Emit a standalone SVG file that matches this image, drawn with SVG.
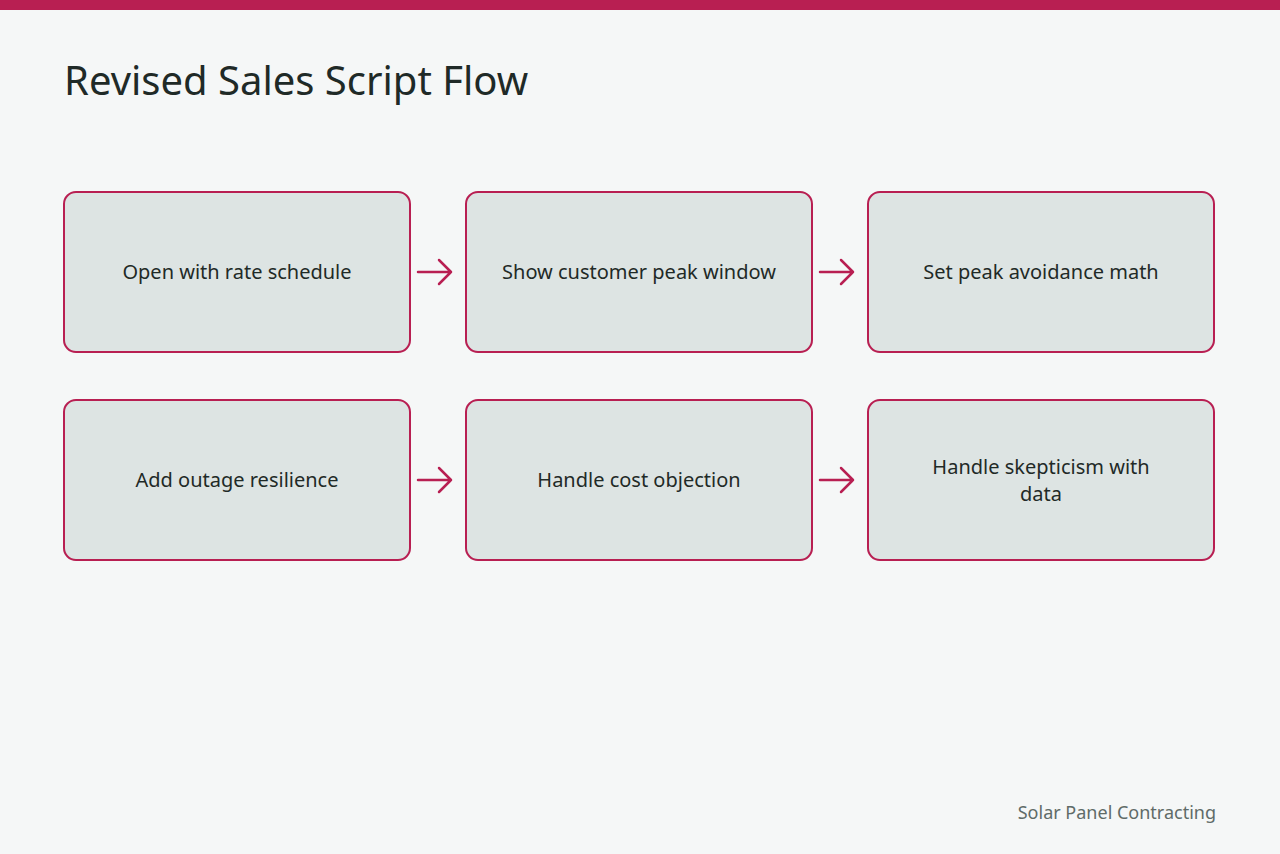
<svg xmlns="http://www.w3.org/2000/svg" width="1280" height="854" viewBox="0 0 1280 854">
<defs><style>
.n{fill:#dde4e3;stroke:#b81f52;stroke-width:2}
.t{font-family:"Noto Sans","Open Sans",sans-serif;font-size:20px;fill:#1f2a27;text-anchor:middle}
.c{fill:none;stroke:#b81f52;stroke-width:2.5;stroke-linecap:round;stroke-linejoin:round}
</style></defs>
<rect width="1280" height="854" fill="#f5f7f7"/>
<rect width="1280" height="10" fill="#b81f52"/>
<text x="64" y="95" font-family="'Noto Sans','Open Sans',sans-serif" font-size="40" fill="#1f2a27">Revised Sales Script Flow</text>
<g id="n1"><rect class="n" x="64" y="192" width="346" height="160" rx="12"/><text class="t" x="237" y="279">Open with rate schedule</text></g>
<g id="n2"><rect class="n" x="466" y="192" width="346" height="160" rx="12"/><text class="t" x="639" y="279">Show customer peak window</text></g>
<g id="n3"><rect class="n" x="868" y="192" width="346" height="160" rx="12"/><text class="t" x="1041" y="279">Set peak avoidance math</text></g>
<g id="n4"><rect class="n" x="64" y="400" width="346" height="160" rx="12"/><text class="t" x="237" y="487">Add outage resilience</text></g>
<g id="n5"><rect class="n" x="466" y="400" width="346" height="160" rx="12"/><text class="t" x="639" y="487">Handle cost objection</text></g>
<g id="n6"><rect class="n" x="868" y="400" width="346" height="160" rx="12"/><text class="t" x="1041" y="474">Handle skepticism with</text><text class="t" x="1041" y="501">data</text></g>
<g id="connectors">
<path class="c" d="M418 272H451M439 260L451 272L439 284"/>
<path class="c" d="M820 272H853M841 260L853 272L841 284"/>
<path class="c" d="M418 480H451M439 468L451 480L439 492"/>
<path class="c" d="M820 480H853M841 468L853 480L841 492"/>
</g>
<text x="1216" y="819" text-anchor="end" font-family="'Noto Sans','Open Sans',sans-serif" font-size="18" fill="#5f6b68">Solar Panel Contracting</text>
</svg>
